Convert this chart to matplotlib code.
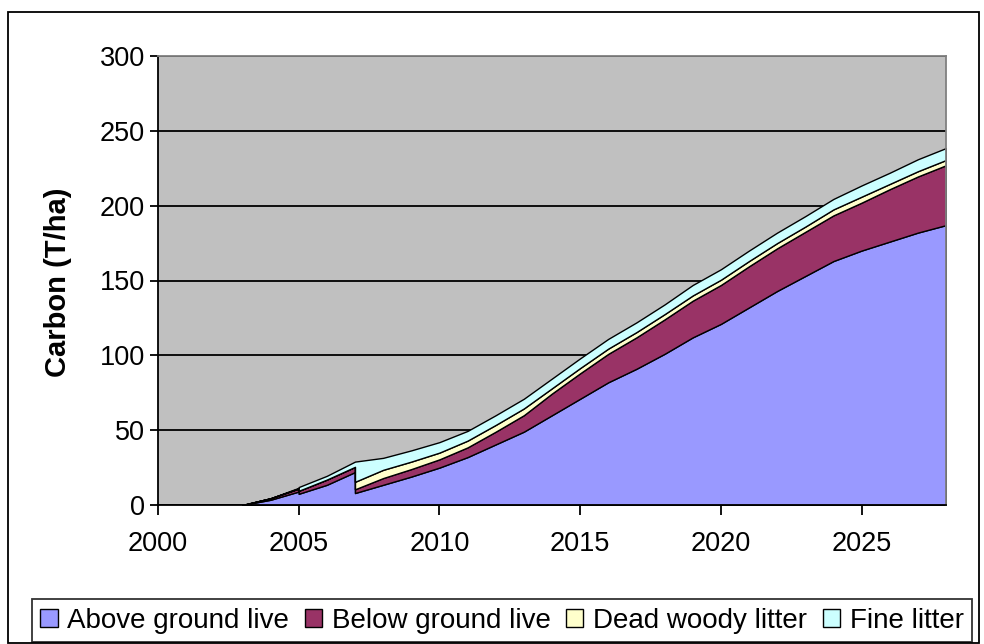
import matplotlib
matplotlib.use("Agg")
import matplotlib.pyplot as plt
from matplotlib.patches import Patch, Rectangle

plt.rcParams['font.family'] = ['Liberation Sans', 'DejaVu Sans']

# Stand carbon pools (T/ha); the repeated years hold values just before and after a thinning
years = [2003, 2004, 2005, 2005, 2006, 2007, 2007,
         2008, 2009, 2010, 2011, 2012, 2013, 2014, 2015, 2016, 2017, 2018,
         2019, 2020, 2021, 2022, 2023, 2024, 2025, 2026, 2027, 2028]
above_ground = [0, 3.5, 9, 7.5, 13.5, 22, 8,
                13.5, 19, 25, 32, 40.5, 49, 60, 71, 82, 91, 101,
                112, 121, 132, 143, 153, 163, 170, 176, 182, 187]
below_ground = [0, 1, 2, 2, 3.5, 3.5, 2.5,
                4.5, 5, 5.5, 6.5, 8.5, 11, 14.5, 17, 19, 21, 23,
                24.5, 26, 27.5, 28.5, 29.5, 30.5, 32, 35, 37.5, 40]
dead_woody = [0, 0, 0, 0, 0, 0, 5,
              5.5, 5, 4.5, 4.5, 4.5, 4.5, 3.5, 3.5, 3.5, 3.5, 3.5,
              3.5, 3.5, 3.5, 3.5, 3.5, 4, 4, 3.5, 3.5, 3.5]
fine_litter = [0, 0, 0.5, 2.5, 2.5, 3.5, 13.5,
               8, 7.5, 7, 6.5, 6.5, 6.5, 6.5, 6.5, 6.5, 6.5, 6.5,
               7, 7, 7, 7, 7, 7, 7.5, 7.5, 8, 8]

labels = ["Above ground live", "Below ground live", "Dead woody litter", "Fine litter"]
colors = ["#9999FF", "#993366", "#FFFFCC", "#CCFFFF"]
y_ticks = [0, 50, 100, 150, 200, 250, 300]
x_ticks = [2000, 2005, 2010, 2015, 2020, 2025]

W, H = 984, 644
fig = plt.figure(figsize=(W / 100, H / 100), dpi=100)
fig.patch.set_facecolor("white")

# plot area in pixel terms
left, right, top, bottom = 158, 946, 56, 505
ax = fig.add_axes([left / W, 1 - bottom / H, (right - left) / W, (bottom - top) / H])
ax.set_facecolor("#C0C0C0")

ax.stackplot(years, above_ground, below_ground, dead_woody, fine_litter,
             colors=colors, edgecolor="black", linewidth=1.0, zorder=2)

ax.set_xlim(2000, 2028)
ax.set_ylim(0, 300)
ax.set_xticks(x_ticks)
ax.set_yticks(y_ticks)
ax.yaxis.grid(True, color="black", linewidth=1.3, zorder=0)
ax.set_axisbelow(True)

for s in ("top", "right"):
    ax.spines[s].set_color("#808080")
    ax.spines[s].set_linewidth(1.3)
for s in ("left", "bottom"):
    ax.spines[s].set_color("black")
    ax.spines[s].set_linewidth(1.3)

ax.tick_params(axis="both", direction="out", width=1.3, colors="black",
               labelsize=19.5)
ax.tick_params(axis="x", length=7, pad=12)
ax.tick_params(axis="y", length=5.5, pad=4)

fig.text(58 / W, 1 - 282 / H, "Carbon (T/ha)", rotation=90, ha="center", va="center",
         fontsize=21, fontweight="bold")

handles = [Patch(facecolor=c, edgecolor="black", linewidth=1.0) for c in colors]
leg = fig.legend(handles, labels, ncol=4, loc="lower left",
                 bbox_to_anchor=(32 / W, 1 - 642 / H, 940 / W, 48 / H), mode="expand",
                 fontsize=20, frameon=True, fancybox=False,
                 handlelength=0.62, handleheight=0.62, handletextpad=0.35,
                 columnspacing=0.4, borderpad=0.3, borderaxespad=0)
leg.get_frame().set_edgecolor("black")
leg.get_frame().set_linewidth(1.3)

# outer chart border
fig.patches.append(Rectangle((8 / W, 1 - 643 / H), 971 / W, 631 / H,
                             transform=fig.transFigure, fill=False,
                             edgecolor="black", linewidth=1.3))

fig.savefig("out.png", dpi=100, facecolor="white")
